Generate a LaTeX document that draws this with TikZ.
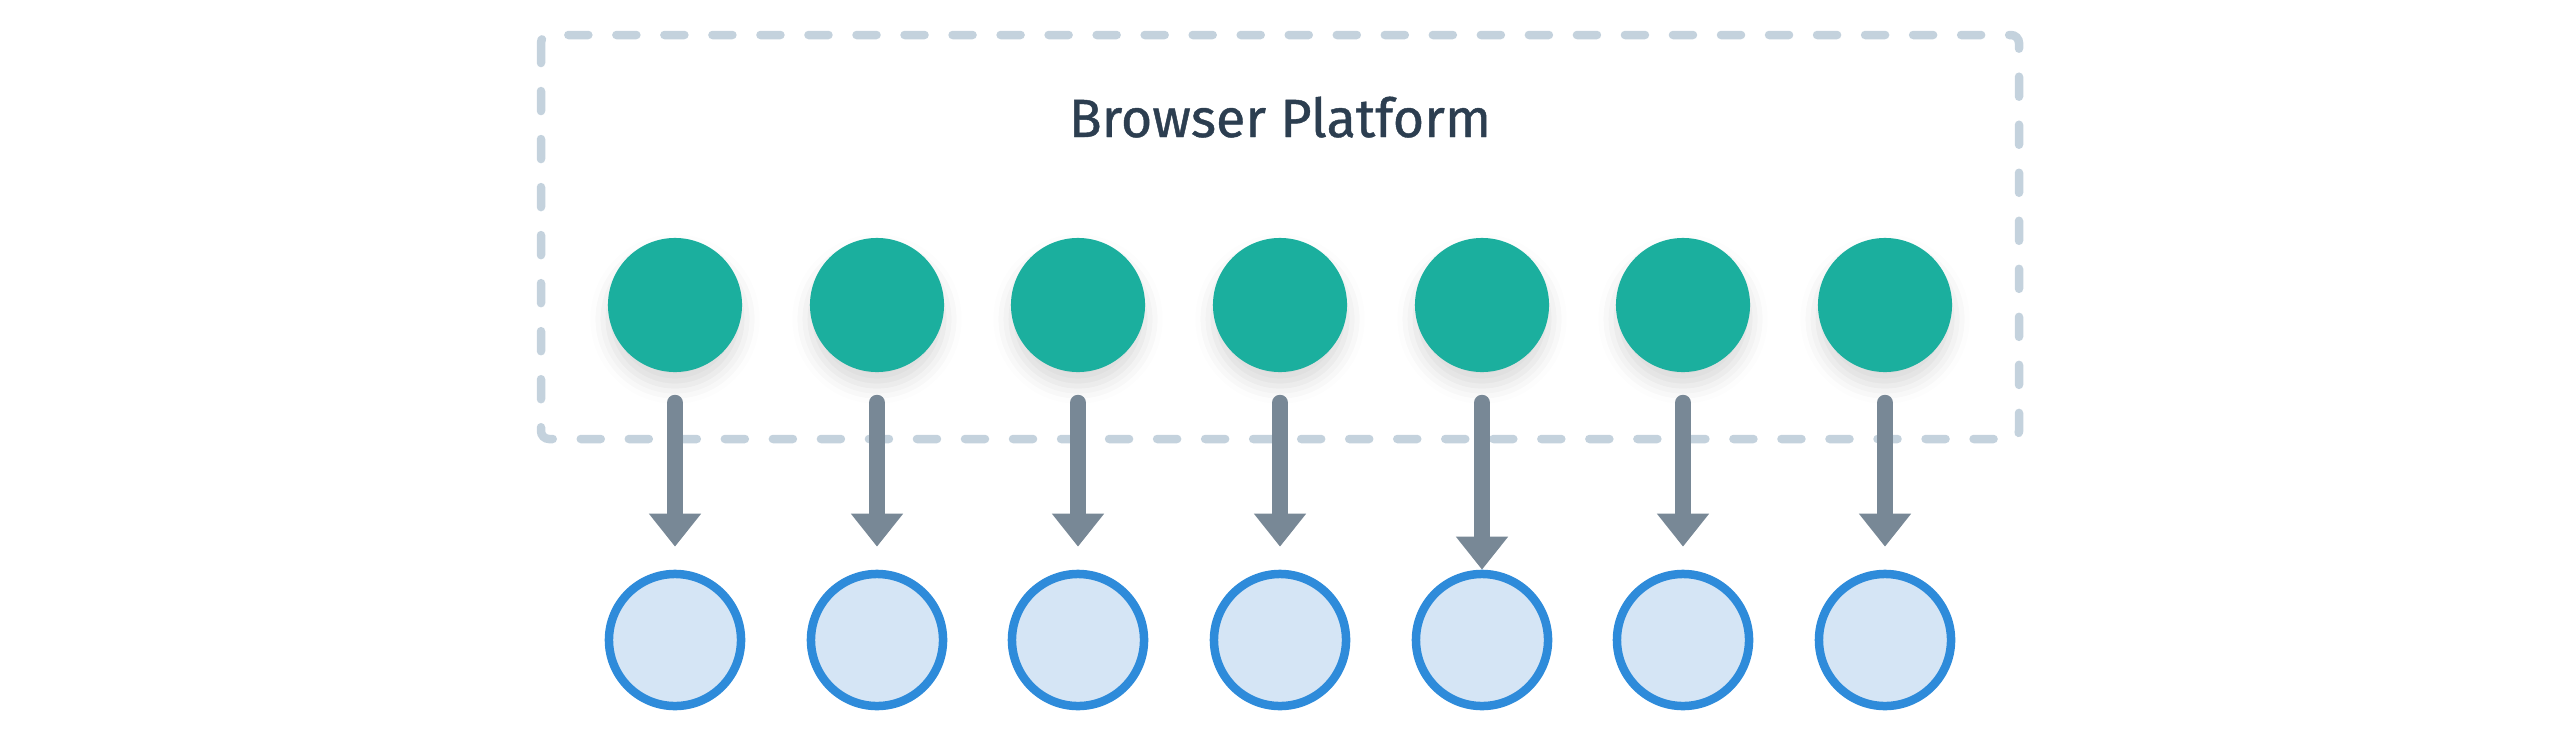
\documentclass[tikz,border=0pt]{standalone}
\usepackage{fontspec}
\setmainfont{Fira Sans}
\usetikzlibrary{arrows.meta,shadows.blur}
\definecolor{tealdot}{HTML}{1BAF9E}
\definecolor{bluefill}{HTML}{D5E5F5}
\definecolor{blueline}{HTML}{2E8BDA}
\definecolor{arrowgray}{HTML}{788896}
\definecolor{boxgray}{HTML}{C4D2DD}
\definecolor{titleink}{HTML}{2C3E50}
\begin{document}
\begin{tikzpicture}[x=0.01cm, y=-0.01cm,
  platform/.style={draw=boxgray, line width=0.085cm, line cap=round, dash pattern=on 0.2cm off 0.28cm, rounded corners=0.08cm},
  source/.style={circle, fill=tealdot, minimum size=1.34cm, inner sep=0pt,
    blur shadow={shadow xshift=0pt, shadow yshift=-4pt, shadow blur radius=5pt, shadow opacity=15}},
  target/.style={circle, draw=blueline, fill=bluefill, line width=0.085cm, minimum size=1.32cm, inner sep=0pt},
  feed/.style={draw=arrowgray, line width=0.16cm, line cap=round, -{Triangle[width=0.5cm, length=0.33cm]},
    shorten <=0.3cm, shorten >=0.23cm}]
  \useasboundingbox (0,0) rectangle (2560,748);
  \draw[platform] (541,35) rectangle (2019,439);
  \node[anchor=base, text=titleink, font=\fontsize{15.3pt}{18pt}\selectfont\addfontfeatures{FakeBold=0.8}] (title) at (1280,137) {Browser Platform};
  % sources inside the platform
  \node[source] (g1) at (675,305) {};
  \node[source] (g2) at (877,305) {};
  \node[source] (g3) at (1078,305) {};
  \node[source] (g4) at (1280,305) {};
  \node[source] (g5) at (1482,305) {};
  \node[source] (g6) at (1683,305) {};
  \node[source] (g7) at (1885,305) {};
  % targets
  \node[target] (b1) at (675,640) {};
  \node[target] (b2) at (877,640) {};
  \node[target] (b3) at (1078,640) {};
  \node[target] (b4) at (1280,640) {};
  \node[target] (b5) at (1482,640) {};
  \node[target] (b6) at (1683,640) {};
  \node[target] (b7) at (1885,640) {};
  \draw[feed] (g1) -- (b1);
  \draw[feed] (g2) -- (b2);
  \draw[feed] (g3) -- (b3);
  \draw[feed] (g4) -- (b4);
  \draw[feed, shorten >=0pt] (g5) -- (b5);
  \draw[feed] (g6) -- (b6);
  \draw[feed] (g7) -- (b7);
\end{tikzpicture}
\end{document}
